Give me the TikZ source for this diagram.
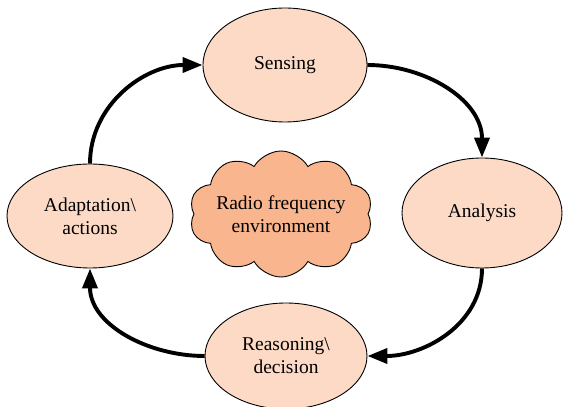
\documentclass[tikz,border=0pt]{standalone}
\usepackage{fontspec}
\setmainfont{Liberation Serif}
\usetikzlibrary{shapes.geometric,shapes.symbols,arrows.meta}

\definecolor{stagefill}{RGB}{252,218,198}
\definecolor{cloudfill}{RGB}{248,181,142}

\begin{document}
\begin{tikzpicture}[x=1pt,y=1pt,
  stage/.style={ellipse, draw=black, line width=0.9pt, fill=stagefill,
    inner sep=0pt, align=center,
    font=\fontsize{19.5}{23}\selectfont},
  env/.style={cloud, cloud puffs=10, cloud puff arc=120, cloud ignores aspect,
    draw=black, line width=0.9pt, fill=cloudfill, inner sep=0pt, align=center,
    minimum width=172pt, minimum height=126pt,
    font=\fontsize{19.5}{23}\selectfont},
  flow/.style={line width=3.9pt, -{Triangle[length=20pt,width=15pt]}}
]
\useasboundingbox (0,0) rectangle (563,407);

% the four stages of the cycle
\node[stage, minimum width=164pt, minimum height=114pt] (sense) at (285,342) {Sensing};
\node[stage, minimum width=160pt, minimum height=110pt] (analysis) at (482,194) {Analysis};
\node[stage, minimum width=162pt, minimum height=106pt] (reason) at (286,51) {Reasoning\textbackslash\\decision};
\node[stage, minimum width=166pt, minimum height=104pt] (adapt) at (90,191) {Adaptation\textbackslash\\actions};

% environment in the middle
\node[env] (rf) at (281,193) {Radio frequency\\environment};

% cycle arrows
\draw[flow] (adapt.north) to[out=90,in=180] (sense.west);
\draw[flow] (sense.east) to[out=0,in=90] (analysis.north);
\draw[flow] (analysis.south) to[out=-90,in=0] (reason.east);
\draw[flow] (reason.west) to[out=180,in=-90] (adapt.south);
\end{tikzpicture}
\end{document}
